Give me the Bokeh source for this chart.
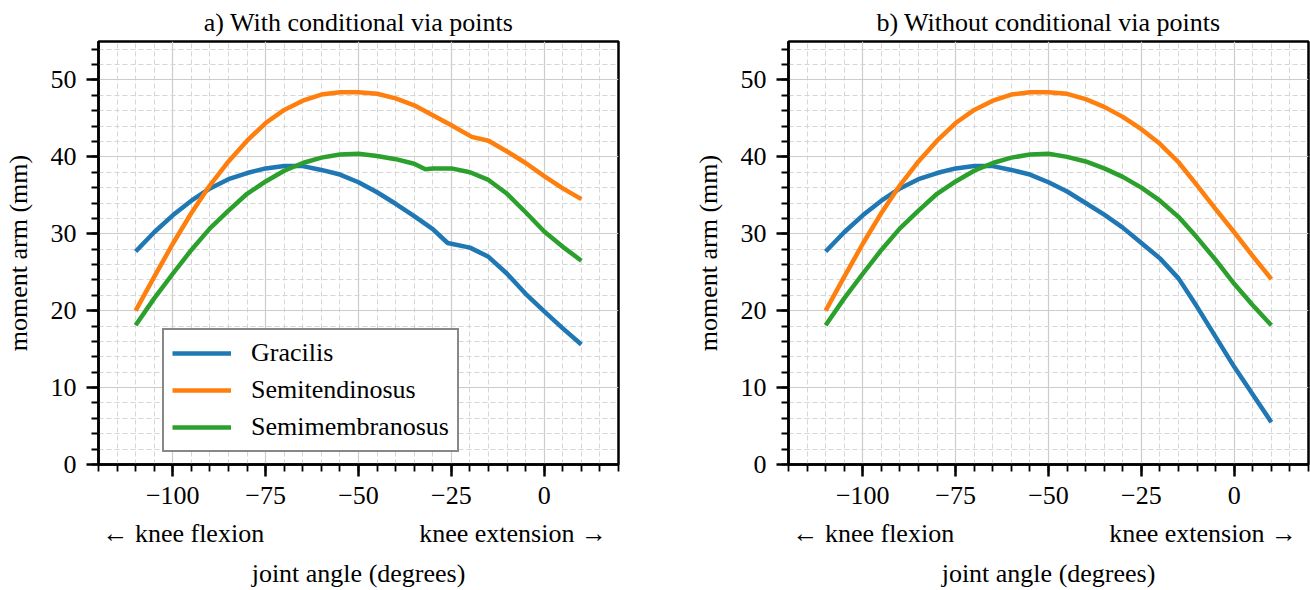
from bokeh.plotting import figure
from bokeh.layouts import row
from bokeh.models import FixedTicker, CustomJSTickFormatter, Legend, LegendItem, LinearAxis
from bokeh.embed import file_html
from bokeh.resources import INLINE

# ---------------- data ----------------
# panel a) With conditional via points
gr_a_x = [-110, -105, -100, -95, -90, -85, -80, -75, -70, -65, -60, -55, -50,
          -45, -40, -35, -30, -26, -20, -15, -10, -5, 0, 5, 10]
gr_a_y = [27.7, 30.2, 32.4, 34.3, 35.9, 37.1, 37.9, 38.5, 38.8, 38.8, 38.3, 37.7, 36.7,
          35.4, 33.9, 32.3, 30.6, 28.8, 28.2, 27.0, 24.8, 22.2, 19.9, 17.7, 15.6]

st_a_x = [-110, -105, -100, -95, -90, -85, -80, -75, -70, -65, -60, -55, -50,
          -45, -40, -35, -30, -25, -19.5, -15, -10, -5, 0, 5, 10]
st_a_y = [20.0, 24.4, 28.7, 32.7, 36.3, 39.4, 42.1, 44.4, 46.1, 47.3, 48.1, 48.4, 48.4,
          48.2, 47.6, 46.7, 45.4, 44.1, 42.6, 42.1, 40.7, 39.2, 37.5, 35.9, 34.5]

sm_a_x = [-110, -105, -100, -95, -90, -85, -80, -75, -70, -65, -60, -55, -50,
          -45, -40, -35, -32, -30, -25, -20, -15, -10, -5, 0, 5, 10]
sm_a_y = [18.1, 21.6, 24.8, 27.9, 30.7, 33.0, 35.2, 36.8, 38.2, 39.2, 39.9, 40.3, 40.4,
          40.1, 39.7, 39.1, 38.4, 38.5, 38.5, 38.0, 37.0, 35.2, 32.8, 30.3, 28.3, 26.5]

# panel b) Without conditional via points
b_x = [-110, -105, -100, -95, -90, -85, -80, -75, -70, -65, -60, -55, -50,
       -45, -40, -35, -30, -25, -20, -15, -10, -5, 0, 5, 10]
gr_b_y = [27.7, 30.2, 32.4, 34.3, 35.9, 37.1, 37.9, 38.5, 38.8, 38.8, 38.3, 37.7, 36.7,
          35.5, 34.0, 32.5, 30.8, 28.8, 26.8, 24.2, 20.5, 16.6, 12.7, 9.1, 5.5]
st_b_y = [20.0, 24.4, 28.7, 32.7, 36.3, 39.4, 42.1, 44.4, 46.1, 47.3, 48.1, 48.4, 48.4,
          48.2, 47.5, 46.5, 45.2, 43.6, 41.7, 39.3, 36.3, 33.2, 30.2, 27.1, 24.1]
sm_b_y = [18.1, 21.6, 24.8, 27.9, 30.7, 33.0, 35.2, 36.8, 38.2, 39.2, 39.9, 40.3, 40.4,
          40.0, 39.4, 38.5, 37.4, 36.0, 34.3, 32.2, 29.5, 26.6, 23.5, 20.7, 18.1]

names = ["Gracilis", "Semitendinosus", "Semimembranosus"]
colors = ["#1f77b4", "#ff7f0e", "#2ca02c"]
titles = ["a) With conditional via points", "b) Without conditional via points"]

x_major = [-100, -75, -50, -25, 0]
x_minor = list(range(-120, 21, 5))
y_major = [0, 10, 20, 30, 40, 50]
y_minor = list(range(0, 56, 2))
hint_pos = [-96.3, -7.5]          # centres of the two direction hints
hint_labels = ["\u2190  knee flexion", "knee extension  \u2192"]

FONT = "Liberation Serif"
FS = "26px"


def make_panel(title, series, width, border_left, border_right, legend=False):
    p = figure(width=width, height=590, x_range=(-120, 20), y_range=(0, 55),
               output_backend="svg", toolbar_location=None,
               min_border_left=border_left, min_border_right=border_right,
               min_border_top=41, min_border_bottom=125)
    p.background_fill_color = "white"
    p.border_fill_color = "white"
    p.outline_line_color = "black"
    p.outline_line_width = 2.5
    p.outline_line_alpha = 1.0

    p.title.text = title
    p.title.text_font = FONT
    p.title.text_font_size = FS
    p.title.text_font_style = "normal"
    p.title.text_color = "black"
    p.title.align = "center"
    p.title.standoff = 10

    p.xaxis.ticker = FixedTicker(ticks=x_major, minor_ticks=x_minor)
    p.yaxis.ticker = FixedTicker(ticks=y_major, minor_ticks=y_minor)
    p.xaxis.formatter = CustomJSTickFormatter(
        code="return tick < 0 ? '\\u2212' + Math.abs(tick) : String(tick);")
    for ax in (p.xaxis, p.yaxis):
        ax.axis_line_color = "black"
        ax.axis_line_width = 2.5
        ax.major_tick_line_color = "black"
        ax.major_tick_line_width = 2.5
        ax.minor_tick_line_color = "black"
        ax.minor_tick_line_width = 1.8
        ax.major_tick_in = 0
        ax.major_tick_out = 12
        ax.minor_tick_in = 0
        ax.minor_tick_out = 7
        ax.major_label_text_font = FONT
        ax.major_label_text_font_size = FS
        ax.major_label_text_color = "black"
    p.xaxis.major_label_standoff = 10
    p.yaxis.major_label_standoff = 10
    p.yaxis.axis_label = "moment arm (mm)"
    p.yaxis.axis_label_text_font = FONT
    p.yaxis.axis_label_text_font_size = FS
    p.yaxis.axis_label_text_font_style = "normal"
    p.yaxis.axis_label_text_color = "black"
    p.yaxis.axis_label_standoff = 15

    # second axis below: direction hints + axis label
    hint = LinearAxis(ticker=FixedTicker(ticks=hint_pos, minor_ticks=[]),
                      formatter=CustomJSTickFormatter(
                          args=dict(labels=hint_labels),
                          code="return tick < -50 ? labels[0] : labels[1];"))
    hint.axis_line_color = None
    hint.major_tick_line_color = None
    hint.minor_tick_line_color = None
    hint.major_tick_out = 0
    hint.major_tick_in = 0
    hint.minor_tick_out = 0
    hint.major_label_standoff = 12
    hint.major_label_text_font = FONT
    hint.major_label_text_font_size = FS
    hint.major_label_text_color = "black"
    hint.axis_label = "joint angle (degrees)"
    hint.axis_label_text_font = FONT
    hint.axis_label_text_font_size = FS
    hint.axis_label_text_font_style = "normal"
    hint.axis_label_text_color = "black"
    hint.axis_label_standoff = 8
    p.add_layout(hint, "below")

    for g in (p.xgrid, p.ygrid):
        g.grid_line_color = "#cccccc"
        g.grid_line_width = 1.2
        g.minor_grid_line_color = "#d6d6d6"
        g.minor_grid_line_width = 1.0
        g.minor_grid_line_dash = "5 3"
    p.xgrid.ticker = FixedTicker(ticks=x_major, minor_ticks=x_minor)
    p.ygrid.ticker = FixedTicker(ticks=y_major, minor_ticks=y_minor)

    renderers = []
    for (xs, ys), name, c in zip(series, names, colors):
        r = p.line(xs, ys, line_color=c, line_width=4.5, line_join="round")
        renderers.append((name, r))

    if legend:
        lg = Legend(items=[LegendItem(label=n, renderers=[r]) for n, r in renderers],
                    location=(64, 12))
        lg.label_text_font = FONT
        lg.label_text_font_size = FS
        lg.label_text_color = "black"
        lg.glyph_width = 59
        lg.glyph_height = 20
        lg.label_standoff = 20
        lg.padding = 8
        lg.spacing = 7
        lg.margin = 0
        lg.border_line_color = "#111111"
        lg.border_line_width = 2
        lg.background_fill_color = "white"
        lg.background_fill_alpha = 1.0
        p.add_layout(lg, "center")
    return p


p1 = make_panel(titles[0], [(gr_a_x, gr_a_y), (st_a_x, st_a_y), (sm_a_x, sm_a_y)],
                width=690, border_left=96, border_right=72, legend=True)
p2 = make_panel(titles[1], [(b_x, gr_b_y), (b_x, st_b_y), (b_x, sm_b_y)],
                width=620, border_left=96, border_right=2)

layout = row(p1, p2)
open("out.html", "w").write(file_html(layout, INLINE))
